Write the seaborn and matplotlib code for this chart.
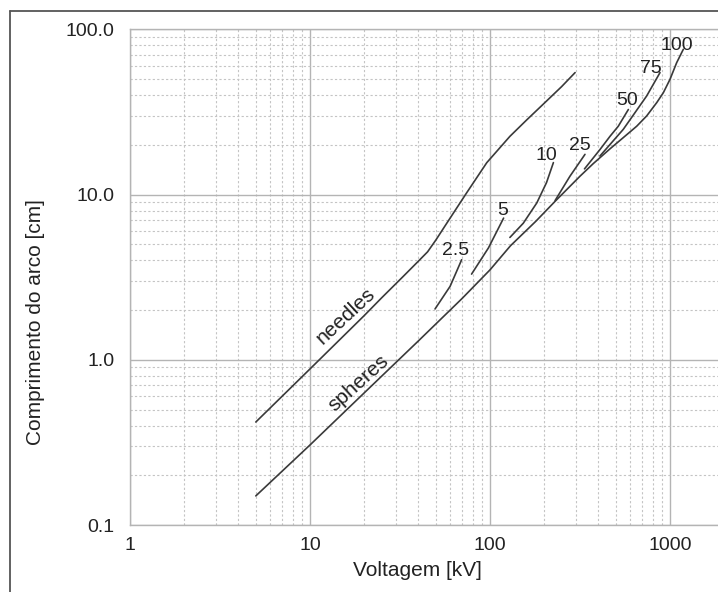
import numpy as np
import pandas as pd
import matplotlib
matplotlib.use("Agg")
import matplotlib.pyplot as plt
import seaborn as sns
from matplotlib.lines import Line2D
from matplotlib.ticker import FixedLocator, LogLocator, NullFormatter

# ---- data ----
needles_kv = [5, 10, 20, 25, 33, 40, 45, 50, 57.5, 74, 96, 129, 160, 198, 250, 297]
needles_cm = [0.42, 0.88, 1.85, 2.37, 3.2, 3.95, 4.5, 5.3, 6.7, 10.2, 15.6, 22.5, 28.3, 35.3, 45.0, 54.7]

spheres_kv = [5, 10, 20, 40, 70, 100, 130, 180, 230, 316, 375, 464, 550, 653, 742, 844, 918, 1000, 1089, 1186]
spheres_cm = [0.15, 0.305, 0.63, 1.3, 2.35, 3.5, 4.9, 6.9, 9.1, 12.9, 15.4, 18.9, 22.1, 25.9, 29.9, 36.0, 41.3, 49.8, 62.8, 75.7]

b2_5_kv = [49.5, 60, 69.6]
b2_5_cm = [2.03, 2.78, 4.03]
b5_kv = [79, 98, 119]
b5_cm = [3.3, 4.75, 7.2]
b10_kv = [129, 153, 182, 206, 225]
b10_cm = [5.5, 6.7, 8.9, 11.8, 15.6]
b25_kv = [230, 278, 337]
b25_cm = [9.2, 12.9, 17.5]
b50_kv = [335, 408, 464, 516, 587]
b50_cm = [14.3, 18.7, 22.5, 25.9, 32.7]
b75_kv = [408, 550, 639, 742, 880]
b75_cm = [17.1, 24.8, 31.3, 39.5, 54.7]

branch_labels = ["2.5", "5", "10", "25", "50", "75", "100"]
branch_label_kv = [64, 117, 206, 316, 575, 781, 1089]
branch_label_cm = [4.6, 8.0, 17.3, 19.9, 37.2, 58, 80]

y_ticks = [0.1, 1.0, 10.0, 100.0]
y_tick_labels = ["0.1", "1.0", "10.0", "100.0"]
x_ticks = [1, 10, 100, 1000]
x_tick_labels = ["1", "10", "100", "1000"]

# ---- figure ----
sns.set_style("white")
plt.rcParams["font.family"] = ["Liberation Sans", "DejaVu Sans"]

fig = plt.figure(figsize=(7.18, 5.92), dpi=100)
ax = fig.add_axes([130 / 718, 67 / 592, 588 / 718, 495.7 / 592])

line_color = "#3a3a3a"
curves = [
    ("needles", needles_kv, needles_cm),
    ("spheres", spheres_kv, spheres_cm),
    ("2.5", b2_5_kv, b2_5_cm),
    ("5", b5_kv, b5_cm),
    ("10", b10_kv, b10_cm),
    ("25", b25_kv, b25_cm),
    ("50", b50_kv, b50_cm),
    ("75", b75_kv, b75_cm),
]
for name, xs, ys in curves:
    df = pd.DataFrame({"kv": xs, "cm": ys})
    sns.lineplot(data=df, x="kv", y="cm", ax=ax, color=line_color,
                 linewidth=1.2, sort=False, estimator=None)

ax.set_xscale("log")
ax.set_yscale("log")
ax.set_xlim(1, 10 ** (588 / 180))
ax.set_ylim(0.1, 100)

ax.xaxis.set_major_locator(FixedLocator(x_ticks))
ax.set_xticklabels(x_tick_labels)
ax.yaxis.set_major_locator(FixedLocator(y_ticks))
ax.set_yticklabels(y_tick_labels)
ax.xaxis.set_minor_locator(LogLocator(base=10, subs=np.arange(2, 10)))
ax.yaxis.set_minor_locator(LogLocator(base=10, subs=np.arange(2, 10)))
ax.xaxis.set_minor_formatter(NullFormatter())
ax.yaxis.set_minor_formatter(NullFormatter())

ax.grid(True, which="major", color="#b4b4b4", linewidth=1.0, linestyle="-")
ax.grid(True, which="minor", color="#c4c4c4", linewidth=0.8, linestyle=(0, (2, 2)))
ax.set_axisbelow(True)

ax.tick_params(which="both", length=0)
ax.tick_params(axis="y", pad=11, labelsize=14, labelcolor="#222222")
ax.tick_params(axis="x", pad=9, labelsize=14, labelcolor="#222222")

for s in ["left", "bottom", "top"]:
    ax.spines[s].set_color("#b4b4b4")
    ax.spines[s].set_linewidth(1.0)
ax.spines["right"].set_visible(False)

ax.set_xlabel("Voltagem [kV]", fontsize=15, color="#222222")
ax.set_ylabel("Comprimento do arco [cm]", fontsize=15, color="#222222")
ax.xaxis.set_label_coords(0.488, -0.091)
ax.yaxis.set_label_coords(-0.16, 0.41)
ax.xaxis.label.set_va("center")
ax.yaxis.label.set_va("center")

for lab, x, y in zip(branch_labels, branch_label_kv, branch_label_cm):
    ax.text(x, y, lab, fontsize=14, color="#222222", ha="center", va="center")

ax.text(15.8, 1.83, "needles", fontsize=15, color="#222222", rotation=43,
        ha="center", va="center", rotation_mode="anchor")
ax.text(18.6, 0.72, "spheres", fontsize=15, color="#222222", rotation=42,
        ha="center", va="center", rotation_mode="anchor")

# outer frame (cropped at right and bottom in the reference)
fx = 10 / 718
fy = 1 - 11 / 592
fig.add_artist(Line2D([fx, 1.0], [fy, fy], transform=fig.transFigure, color="#555555", linewidth=1.3))
fig.add_artist(Line2D([fx, fx], [0.0, fy], transform=fig.transFigure, color="#555555", linewidth=1.3))

fig.savefig("out.png", dpi=100, facecolor="white")
